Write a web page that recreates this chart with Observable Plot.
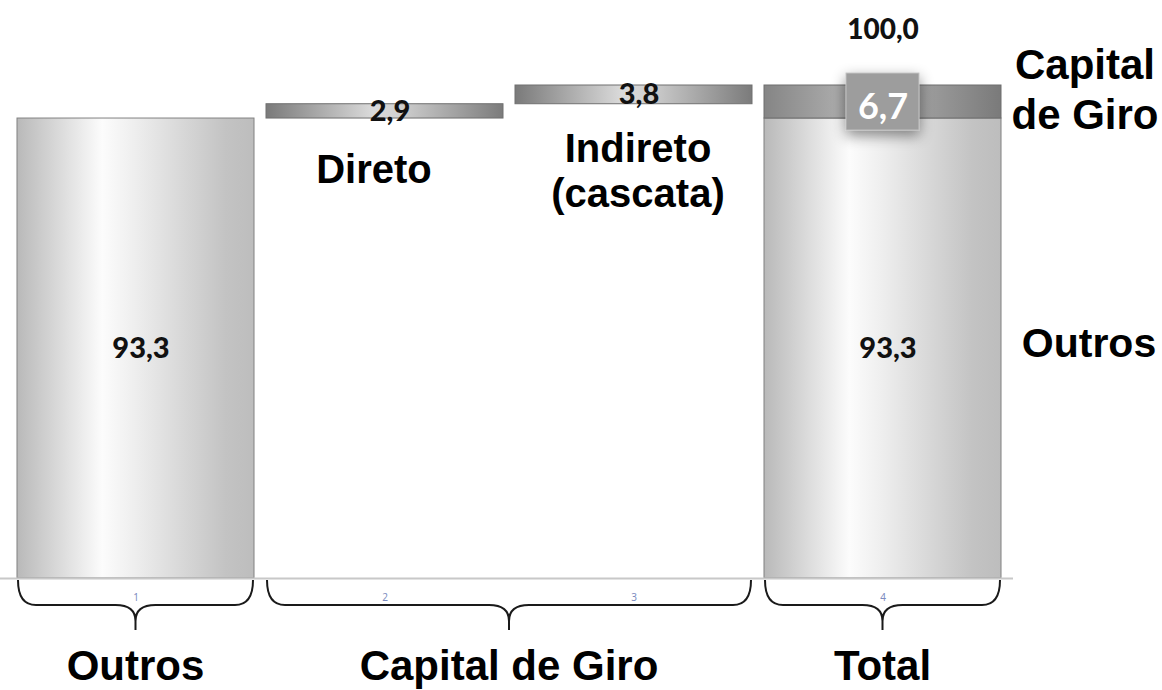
<!DOCTYPE html>
<html><head><meta charset="utf-8">
<script src="https://cdn.jsdelivr.net/npm/d3@7"></script>
<script src="https://cdn.jsdelivr.net/npm/@observablehq/plot@0.6"></script>
<style>body{margin:0;background:#fff;} #chart svg{display:block;overflow:visible;}</style>
</head><body><div id="chart"></div>
<script>
// ---- data ----
const categories = ["1", "2", "3", "4"];
const stepNames = ["Outros", "Direto", "Indireto (cascata)", "Total"];
const stepValues = [93.3, 2.9, 3.8];          // Outros, Direto, Indireto
const capitalGiro = 6.7;                        // Direto + Indireto
const total = 100.0;
const groupNames = ["Outros", "Capital de Giro", "Total"];
const groupCats = [["1"], ["2", "3"], ["4"]];

// ---- derived table ----
const fmt = v => v.toFixed(1).replace(".", ",");
const base0 = stepValues[0];
const segments = [
  {cat: "1", y1: 0, y2: base0, kind: "light", v: stepValues[0]},
  {cat: "2", y1: base0, y2: base0 + stepValues[1], kind: "dark", v: stepValues[1]},
  {cat: "3", y1: base0 + stepValues[1], y2: base0 + stepValues[1] + stepValues[2], kind: "dark", v: stepValues[2]},
  {cat: "4", y1: 0, y2: base0, kind: "light", v: stepValues[0]},
  {cat: "4", y1: base0, y2: base0 + capitalGiro, kind: "top", v: capitalGiro}
];

const LS = "Liberation Sans, Arial, Helvetica, sans-serif";
const NUM = "Lato, Carlito, Calibri, sans-serif";

function defsMark() {
  const g = d3.create("svg:g");
  const d = g.append("defs");
  const mk = (id, stops) => {
    const lg = d.append("linearGradient").attr("id", id)
      .attr("x1", 0).attr("x2", 1).attr("y1", 0).attr("y2", 0);
    stops.forEach(([o, c]) => lg.append("stop").attr("offset", o).attr("stop-color", c));
  };
  mk("gLight", [[0, "#b9b9b9"], [0.36, "#fcfcfc"], [0.5, "#eeeeee"], [0.88, "#c3c3c3"], [1, "#bdbdbd"]]);
  mk("gDark", [[0, "#7a7a7a"], [0.45, "#dadada"], [0.55, "#d2d2d2"], [1, "#7b7b7b"]]);
  mk("gTop", [[0, "#858585"], [0.3, "#a9a9a9"], [0.6, "#a6a6a6"], [1, "#7a7a7a"]]);
  const f = d.append("filter").attr("id", "boxShadow")
    .attr("x", "-60%").attr("y", "-60%").attr("width", "220%").attr("height", "220%");
  f.append("feDropShadow").attr("dx", 0).attr("dy", 5).attr("stdDeviation", 7)
    .attr("flood-color", "#000").attr("flood-opacity", 0.45);
  return g.node();
}

function bandwidthOf(x) {
  return typeof x.bandwidth === "function" ? x.bandwidth() : (x("2") - x("1")) * 0.95;
}

function boxMark(index, scales) {
  const {x, y} = scales;
  const bw = bandwidthOf(x);
  const cx = x("4") + bw / 2;
  const cy = (y(base0) + y(base0 + capitalGiro)) / 2;
  const w = 73, h = 57;
  return d3.create("svg:g").call(g => g.append("rect")
    .attr("x", cx - w / 2).attr("y", cy - h / 2).attr("width", w).attr("height", h)
    .attr("fill", "#9d9d9d").attr("stroke", "#c2c2c2").attr("stroke-width", 1)
    .attr("filter", "url(#boxShadow)")).node();
}

function braceMark(index, scales) {
  const {x, y} = scales;
  const bw = bandwidthOf(x);
  const base = y(0);
  const g = d3.create("svg:g");
  groupCats.forEach((cats, i) => {
    const x0 = x(cats[0]) + 1;
    const x1 = x(cats[cats.length - 1]) + bw - 1;
    const cx = (x0 + x1) / 2;
    const top = base + 2, mid = base + 27, tip = base + 52, r = 18;
    const p = `M${x0},${top} Q${x0},${mid} ${x0 + r},${mid} L${cx - 20},${mid} Q${cx},${mid} ${cx},${mid + 16} L${cx},${tip}`
      + ` M${cx},${mid + 16} Q${cx},${mid} ${cx + 20},${mid} L${x1 - r},${mid} Q${x1},${mid} ${x1},${top}`;
    g.append("path").attr("d", p).attr("fill", "none").attr("stroke", "#1a1a1a").attr("stroke-width", 2);
    g.append("text").attr("x", cx).attr("y", base + 102)
      .attr("text-anchor", "middle").attr("font-family", LS).attr("font-weight", "bold")
      .attr("font-size", 42).attr("fill", "#000").text(groupNames[i]);
  });
  return g.node();
}

const valueLabels = [
  {cat: "1", y: base0 / 2, t: fmt(stepValues[0])},
  {cat: "4", y: base0 / 2, t: fmt(stepValues[0])},
  {cat: "2", y: base0 + stepValues[1] / 2, t: fmt(stepValues[1])},
  {cat: "3", y: base0 + stepValues[1] + stepValues[2] / 2, t: fmt(stepValues[2])}
];

const chart = Plot.plot({
  width: 1162,
  height: 690,
  marginLeft: 17,
  marginRight: 161,
  marginTop: 85,
  marginBottom: 112,
  x: {domain: categories, paddingInner: 0.05, paddingOuter: 0, axis: null, label: null},
  y: {domain: [0, total], axis: null, label: null},
  style: {background: "#fff"},
  marks: [
    defsMark,
    Plot.rectY(segments.filter(d => d.kind === "light"), {x: "cat", y1: "y1", y2: "y2", fill: "url(#gLight)", stroke: "#808080", strokeWidth: 1}),
    Plot.rectY(segments.filter(d => d.kind === "dark"), {x: "cat", y1: "y1", y2: "y2", fill: "url(#gDark)", stroke: "#707070", strokeWidth: 1}),
    Plot.rectY(segments.filter(d => d.kind === "top"), {x: "cat", y1: "y1", y2: "y2", fill: "url(#gTop)", stroke: "#6e6e6e", strokeWidth: 1}),
    Plot.ruleY([0], {stroke: "#c8c8c8", strokeWidth: 2, insetLeft: -17, insetRight: -12}),
    Plot.axisX({tickSize: 0, tickPadding: 15, fontSize: 10, color: "#7d8cc0", label: null}),
    Plot.text(valueLabels, {x: "cat", y: "y", text: "t", dx: 5, fontFamily: NUM, fontWeight: 900, fontSize: 29, fill: "#111", lineAnchor: "middle"}),
    Plot.text([total], {x: () => "4", y: d => d, text: d => fmt(d), dy: -47, lineAnchor: "bottom", fontFamily: NUM, fontWeight: 900, fontSize: 28, fill: "#111"}),
    boxMark,
    Plot.text([capitalGiro], {x: () => "4", y: d => base0 + d / 2, text: d => fmt(d), dy: 5, lineAnchor: "middle", fontFamily: NUM, fontWeight: "bold", fontSize: 36, fill: "#fff"}),
    // annotations
    Plot.text(["Direto"], {x: () => "2", y: () => base0, text: d => d, dx: -11, dy: 64, lineAnchor: "bottom", fontFamily: LS, fontWeight: "bold", fontSize: 40, fill: "#000"}),
    Plot.text(["Indireto\n(cascata)"], {x: () => "3", y: () => base0 + stepValues[1], text: d => d, dx: 4, dy: 103, lineAnchor: "bottom", lineHeight: 1.12, fontFamily: LS, fontWeight: "bold", fontSize: 40, fill: "#000"}),
    Plot.text(["Capital\nde Giro"], {x: () => "4", y: () => total, text: d => d, dx: 202, dy: 43, lineAnchor: "bottom", lineHeight: 1.19, fontFamily: LS, fontWeight: "bold", fontSize: 42, fill: "#000"}),
    Plot.text(["Outros"], {x: () => "4", y: () => base0 / 2, text: d => d, dx: 206, dy: 8, lineAnchor: "bottom", fontFamily: LS, fontWeight: "bold", fontSize: 41, fill: "#000"}),
    braceMark
  ]
});
document.getElementById("chart").appendChild(chart);
</script>
</body></html>
